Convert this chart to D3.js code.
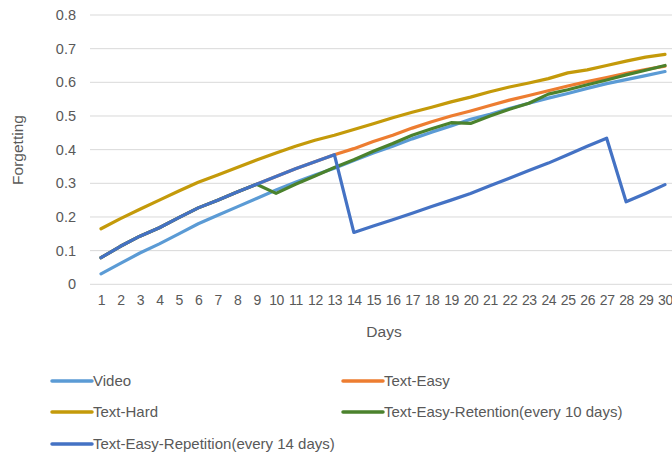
<!DOCTYPE html>
<html>
<head>
<meta charset="utf-8">
<script src="https://cdn.jsdelivr.net/npm/d3@7"></script>
<style>
  html, body { margin: 0; padding: 0; background: #fff; }
  svg { display: block; font-family: "Liberation Sans", "DejaVu Sans", sans-serif; }
</style>
</head>
<body>
<svg id="chart" width="672" height="460"></svg>
<script>
// Forgetting curves over 30 days
const days = d3.range(1, 31);
const yTicks = [0, 0.1, 0.2, 0.3, 0.4, 0.5, 0.6, 0.7, 0.8];

const video = [0.031, 0.062, 0.093, 0.12, 0.15, 0.18, 0.205, 0.23, 0.255, 0.28,
  0.303, 0.325, 0.345, 0.368, 0.39, 0.41, 0.432, 0.452, 0.47, 0.49,
  0.505, 0.522, 0.538, 0.553, 0.567, 0.582, 0.596, 0.608, 0.62, 0.632];

const textEasy = [0.079, 0.113, 0.143, 0.168, 0.198, 0.227, 0.25, 0.274, 0.297, 0.32,
  0.343, 0.364, 0.385, 0.403, 0.424, 0.443, 0.464, 0.483, 0.5, 0.515,
  0.531, 0.547, 0.561, 0.575, 0.589, 0.602, 0.614, 0.627, 0.638, 0.648];

const textHard = [0.165, 0.195, 0.223, 0.25, 0.277, 0.303, 0.325, 0.347, 0.369, 0.39,
  0.41, 0.428, 0.443, 0.46, 0.477, 0.495, 0.511, 0.526, 0.542, 0.556,
  0.572, 0.586, 0.598, 0.611, 0.628, 0.637, 0.65, 0.663, 0.675, 0.683];

const retention10 = [0.079, 0.113, 0.143, 0.168, 0.198, 0.227, 0.25, 0.274, 0.297, 0.27,
  0.297, 0.322, 0.347, 0.37, 0.395, 0.418, 0.443, 0.462, 0.48, 0.478,
  0.5, 0.52, 0.538, 0.565, 0.578, 0.593, 0.607, 0.622, 0.636, 0.65];

const repetition14 = [0.079, 0.113, 0.143, 0.168, 0.198, 0.227, 0.25, 0.274, 0.297, 0.32,
  0.343, 0.364, 0.385, 0.154, 0.173, 0.192, 0.211, 0.231, 0.25, 0.27,
  0.293, 0.315, 0.338, 0.36, 0.385, 0.41, 0.434, 0.245, 0.27, 0.296];

const seriesNames = ["Video", "Text-Easy", "Text-Hard",
  "Text-Easy-Retention(every 10 days)", "Text-Easy-Repetition(every 14 days)"];
const seriesValues = [video, textEasy, textHard, retention10, repetition14];
const seriesColors = ["#5B9BD5", "#ED7D31", "#C49A0A", "#4B822D", "#4472C4"];

const textColor = "#595959";
const svg = d3.select("#chart");
const plot = { left: 90, right: 672, top: 15, bottom: 284.3 };

const x = d3.scalePoint().domain(days).range([101, 665]);
const y = d3.scaleLinear().domain([0, 0.8]).range([plot.bottom, plot.top]);

// horizontal gridlines
svg.append("g")
  .selectAll("line")
  .data(yTicks)
  .join("line")
  .attr("x1", plot.left).attr("x2", plot.right)
  .attr("y1", d => y(d)).attr("y2", d => y(d))
  .attr("stroke", "#d9d9d9").attr("stroke-width", 1);

// y axis labels
const yAxis = d3.axisLeft(y).tickValues(yTicks)
  .tickFormat(d => d === 0 ? "0" : d3.format(".1f")(d))
  .tickSize(0).tickPadding(0);
svg.append("g")
  .attr("transform", `translate(76,0)`)
  .call(yAxis)
  .call(g => g.select(".domain").remove())
  .call(g => g.selectAll("text")
    .attr("fill", textColor).attr("font-size", 14.5)
    .attr("font-family", "Liberation Sans, sans-serif"));

// x axis labels
const xAxis = d3.axisBottom(x).tickSize(0).tickPadding(0);
svg.append("g")
  .attr("transform", `translate(0,${plot.bottom + 11})`)
  .call(xAxis)
  .call(g => g.select(".domain").remove())
  .call(g => g.selectAll("text")
    .attr("fill", textColor).attr("font-size", 14)
    .attr("letter-spacing", -0.4)
    .attr("font-family", "Liberation Sans, sans-serif"));

// axis titles
svg.append("text")
  .attr("x", 384).attr("y", 337)
  .attr("text-anchor", "middle")
  .attr("fill", textColor).attr("font-size", 15.5)
  .text("Days");

svg.append("text")
  .attr("transform", "translate(23,150) rotate(-90)")
  .attr("text-anchor", "middle")
  .attr("fill", textColor).attr("font-size", 15.5)
  .text("Forgetting");

// lines
const line = d3.line()
  .x((d, i) => x(days[i]))
  .y(d => y(d));

svg.append("g")
  .selectAll("path")
  .data(seriesValues)
  .join("path")
  .attr("d", d => line(d))
  .attr("fill", "none")
  .attr("stroke", (d, i) => seriesColors[i])
  .attr("stroke-width", 3.2)
  .attr("stroke-linejoin", "round")
  .attr("stroke-linecap", "round");

// legend
const legendPos = [
  { x: 52, y: 381 }, { x: 343, y: 381 },
  { x: 52, y: 412 }, { x: 343, y: 412 },
  { x: 52, y: 444 }
];
const legend = svg.append("g")
  .selectAll("g")
  .data(seriesNames)
  .join("g")
  .attr("transform", (d, i) => `translate(${legendPos[i].x},${legendPos[i].y})`);

legend.append("line")
  .attr("x1", 0).attr("x2", 40)
  .attr("stroke", (d, i) => seriesColors[i])
  .attr("stroke-width", 3.5)
  .attr("stroke-linecap", "round");

legend.append("text")
  .attr("x", 41).attr("dy", "0.35em")
  .attr("fill", textColor).attr("font-size", 15)
  .text(d => d);
</script>
</body>
</html>
